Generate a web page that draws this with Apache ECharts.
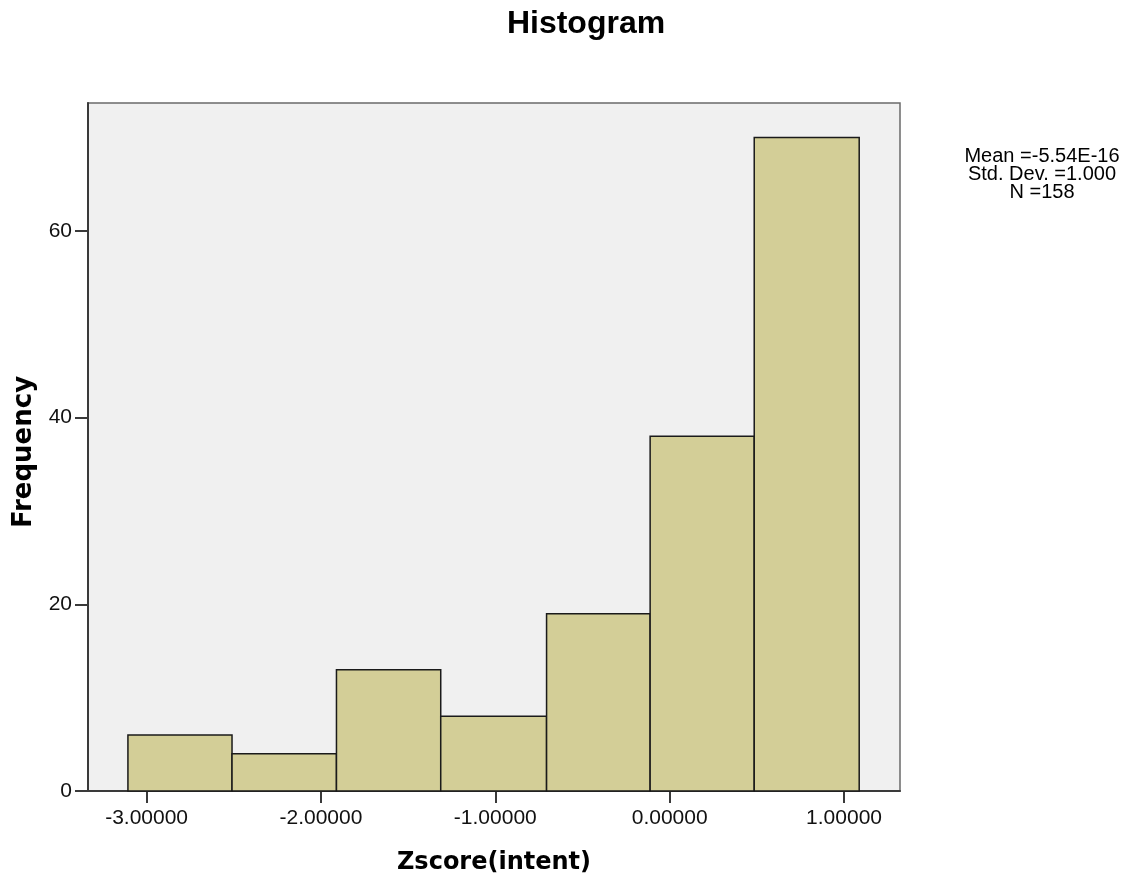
<!DOCTYPE html>
<html>
<head>
<meta charset="utf-8">
<script src="https://cdn.jsdelivr.net/npm/echarts@6/dist/echarts.min.js"></script>
<style>html,body{margin:0;padding:0;background:#fff;}#c{width:1136px;height:884px;}</style>
</head>
<body>
<div id="c"></div>
<script>
const binEdges = [-3.107, -2.510, -1.911, -1.313, -0.706, -0.112, 0.485, 1.087];
const frequencies = [6, 4, 13, 8, 19, 38, 70];
const xTickValues = [-3, -2, -1, 0, 1];
const yTickValues = [0, 20, 40, 60];
const statsLines = ['Mean =-5.54E-16', 'Std. Dev. =1.000', 'N =158'];

const bins = frequencies.map((f, i) => [binEdges[i], binEdges[i + 1], f]);

const chart = echarts.init(document.getElementById('c'), null, {renderer: 'canvas'});
const axisCol = '#3a3a3a';
chart.setOption({
  animation: false,
  backgroundColor: '#ffffff',
  grid: {left: 88, right: 236, top: 103, bottom: 93, show: true, backgroundColor: '#f0f0f0', borderColor: '#6a6a6a', borderWidth: 1.5},
  xAxis: {
    type: 'value', min: -3.336, max: 1.321,
    position: 'bottom',
    axisLine: {show: true, onZero: false, lineStyle: {color: axisCol, width: 2}},
    axisTick: {show: true, length: 12, lineStyle: {color: axisCol, width: 2}, customValues: xTickValues},
    axisLabel: {customValues: xTickValues, formatter: v => v.toFixed(5), fontFamily: 'Liberation Sans, Arial', fontSize: 21, color: '#111', margin: 17},
    splitLine: {show: false},
    name: 'Zscore(intent)', nameLocation: 'middle', nameGap: 60,
    nameTextStyle: {fontFamily: 'DejaVu Sans', fontWeight: 'bold', fontSize: 24, color: '#000'}
  },
  yAxis: {
    type: 'value', min: 0, max: 73.7,
    position: 'left',
    axisLine: {show: true, onZero: false, lineStyle: {color: axisCol, width: 2}},
    axisTick: {show: true, length: 13, lineStyle: {color: axisCol, width: 2}, customValues: yTickValues},
    axisLabel: {customValues: yTickValues, fontFamily: 'Liberation Sans, Arial', fontSize: 21, color: '#111', margin: 16},
    splitLine: {show: false},
    name: 'Frequency', nameLocation: 'middle', nameGap: 50,
    nameTextStyle: {fontFamily: 'DejaVu Sans', fontWeight: 'bold', fontSize: 26, color: '#000', padding: [0, 10, 0, 0]}
  },
  graphic: [
    {type: 'text', style: {text: 'Histogram', x: 586, y: 24, align: 'center', verticalAlign: 'middle', font: 'bold 32px "Liberation Sans", Arial', fill: '#000'}},
    {type: 'text', style: {text: statsLines.join('\n'), x: 1042, y: 147, align: 'center', verticalAlign: 'top', font: '20px "Liberation Sans", Arial', lineHeight: 18, fill: '#000'}}
  ],
  series: [{
    type: 'custom',
    data: bins,
    encode: {x: [0, 1], y: 2},
    renderItem: function (params, api) {
      const p0 = api.coord([api.value(0), api.value(2)]);
      const p1 = api.coord([api.value(1), 0]);
      return {
        type: 'rect',
        shape: {x: p0[0], y: p0[1], width: p1[0] - p0[0], height: p1[1] - p0[1]},
        style: {fill: '#d3ce97', stroke: '#1a1a1a', lineWidth: 1.5}
      };
    }
  }]
});
</script>
</body>
</html>
